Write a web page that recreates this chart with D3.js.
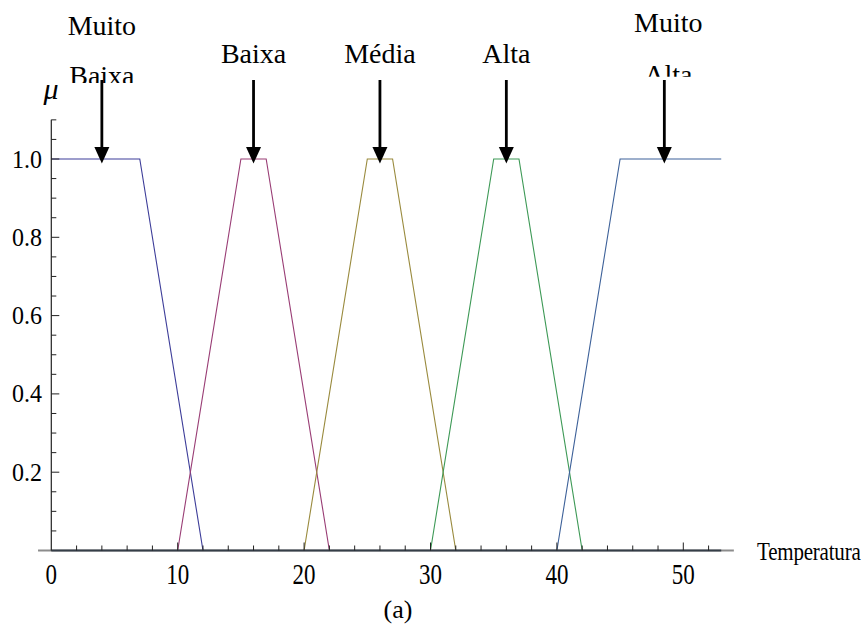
<!DOCTYPE html>
<html>
<head>
<meta charset="utf-8">
<script src="https://cdn.jsdelivr.net/npm/d3@7"></script>
<style>
  html, body { margin: 0; padding: 0; background: #fff; }
  svg { display: block; }
</style>
</head>
<body>
<svg id="chart" width="868" height="626"></svg>
<script>
// Fuzzy sets for temperature: trapezoids (footLeft, peakLeft, peakRight, footRight)
const setNames    = ["Muito Baixa", "Baixa", "Média", "Alta", "Muito Alta"];
const footLeft    = [0, 10, 20, 30, 40];
const peakLeft    = [0, 15, 25, 35, 45];
const peakRight   = [7, 17, 27, 37, 53];
const footRight   = [12, 22, 32, 42, 53];
const setColors   = ["#3d3d99", "#993d75", "#998a3d", "#3d9956", "#3d6199"];

// Arrow markers pointing at each set, with their label lines
const arrowAt     = [4, 16, 26, 36, 48.5];
const labelLines  = [["Muito", "Baixa"], ["Baixa"], ["Média"], ["Alta"], ["Muito", "Alta"]];

const xDomain     = [0, 53];
const yDomain     = [0, 1.1];
const xTickValues = d3.range(0, 53, 2);
const xTickLabels = [0, 10, 20, 30, 40, 50];
const yTickValues = d3.range(1, 23).map(i => i * 0.05);
const yTickLabels = [0.2, 0.4, 0.6, 0.8, 1.0];

const SERIF = "Liberation Serif";
const svg = d3.select("#chart");

const x = d3.scaleLinear().domain(xDomain).range([51.3, 51.3 + 53 * 12.64]);
const y = d3.scaleLinear().domain(yDomain).range([550.5, 550.5 - 1.1 * 391.5]);

// membership degree of a trapezoid at t
function mu(i, t) {
  const a = footLeft[i], b = peakLeft[i], c = peakRight[i], d = footRight[i];
  if (t < a || t > d) return 0;
  if (t < b) return (t - a) / (b - a);
  if (t <= c) return 1;
  return (d - t) / (d - c);
}

// text helper with optional vertical stretch
function stretchedText(parent, px, py, str, size, sy, anchor) {
  return parent.append("text")
    .attr("transform", `translate(${px},${py}) scale(1,${sy})`)
    .attr("text-anchor", anchor)
    .attr("font-family", SERIF)
    .attr("font-size", size)
    .attr("fill", "#000")
    .text(str);
}

// ---- membership curves
const line = d3.line().x(d => x(d[0])).y(d => y(d[1]));
const curves = setNames.map((name, i) => {
  const ts = Array.from(new Set([xDomain[0], footLeft[i], peakLeft[i], peakRight[i], footRight[i], xDomain[1]]
    .map(t => Math.max(xDomain[0], Math.min(xDomain[1], t))))).sort((a, b) => a - b);
  return ts.map(t => [t, mu(i, t)]);
});
svg.append("g").selectAll("path")
  .data(curves)
  .join("path")
  .attr("d", line)
  .attr("fill", "none")
  .attr("stroke", (d, i) => setColors[i])
  .attr("stroke-width", 1.1)
  .attr("stroke-linejoin", "miter");

// ---- x axis line (extends a little past the data range)
svg.append("line")
  .attr("x1", x(-1.05)).attr("x2", x(54))
  .attr("y1", y(0)).attr("y2", y(0))
  .attr("stroke", "#8c8c8c").attr("stroke-width", 1.8);
svg.append("line")
  .attr("x1", x(0)).attr("x2", x(53))
  .attr("y1", y(0)).attr("y2", y(0))
  .attr("stroke", "#26303c").attr("stroke-width", 1.8).attr("stroke-opacity", 0.85);

// x ticks pointing upward
svg.append("g").selectAll("line")
  .data(xTickValues.filter(v => v > 0))
  .join("line")
  .attr("x1", d => x(d)).attr("x2", d => x(d))
  .attr("y1", y(0)).attr("y2", d => y(0) - (d % 10 === 0 ? 8 : 5))
  .attr("stroke", "#222").attr("stroke-width", 1);

// x tick labels
const xl = svg.append("g");
xTickLabels.forEach(v => stretchedText(xl, x(v), 584, String(v), 23, 1.25, "middle"));

// ---- y axis line
svg.append("line")
  .attr("x1", x(0)).attr("x2", x(0))
  .attr("y1", y(1.1)).attr("y2", y(0))
  .attr("stroke", "#222").attr("stroke-width", 1.2);

// y ticks pointing right
svg.append("g").selectAll("line")
  .data(yTickValues)
  .join("line")
  .attr("x1", x(0)).attr("x2", d => x(0) + (Math.abs(d / 0.2 - Math.round(d / 0.2)) < 1e-6 ? 8 : 5))
  .attr("y1", d => y(d)).attr("y2", d => y(d))
  .attr("stroke", "#222").attr("stroke-width", 1);

// y tick labels
const yl = svg.append("g");
yTickLabels.forEach(v => stretchedText(yl, 42, y(v) + 8.5, v.toFixed(1), 24, 1.08, "end"));

// axis titles
svg.append("text")
  .attr("x", 51).attr("y", 99)
  .attr("text-anchor", "middle")
  .attr("font-family", SERIF)
  .attr("font-size", 30).attr("font-style", "italic")
  .text("μ");
stretchedText(svg, 757, 560, "Temperatura", 21, 1.2, "start").attr("letter-spacing", -0.2);
svg.append("text")
  .attr("x", 398).attr("y", 618)
  .attr("text-anchor", "middle")
  .attr("font-family", SERIF)
  .attr("font-size", 26)
  .text("(a)");

// ---- arrows and labels
const defs = svg.append("defs");
const arrows = svg.append("g");
arrowAt.forEach((v, i) => {
  const ax = x(v);
  arrows.append("line")
    .attr("x1", ax).attr("x2", ax)
    .attr("y1", 80).attr("y2", 150)
    .attr("stroke", "#000").attr("stroke-width", 2.8);
  arrows.append("path")
    .attr("d", `M${ax - 7.5},147 L${ax + 7.5},147 L${ax},163.5 Z`)
    .attr("fill", "#000");

  const lines = labelLines[i];
  const cx = ax + (i === 4 ? 4 : 0);
  const label = (ty, str) => arrows.append("text")
    .attr("x", cx).attr("y", ty)
    .attr("text-anchor", "middle")
    .attr("font-family", SERIF)
    .attr("font-size", 28)
    .text(str);
  if (lines.length === 1) {
    label(63.3, lines[0]);
  } else {
    const top = i === 0 ? 35 : 31.7;
    const second = i === 0 ? 85.2 : 83.5;
    const cut = i === 0 ? 83 : 76.7;
    label(top, lines[0]);
    const id = "clip" + i;
    defs.append("clipPath").attr("id", id)
      .append("rect").attr("x", cx - 60).attr("y", 0).attr("width", 120).attr("height", cut);
    label(second, lines[1]).attr("clip-path", `url(#${id})`);
  }
});
</script>
</body>
</html>
